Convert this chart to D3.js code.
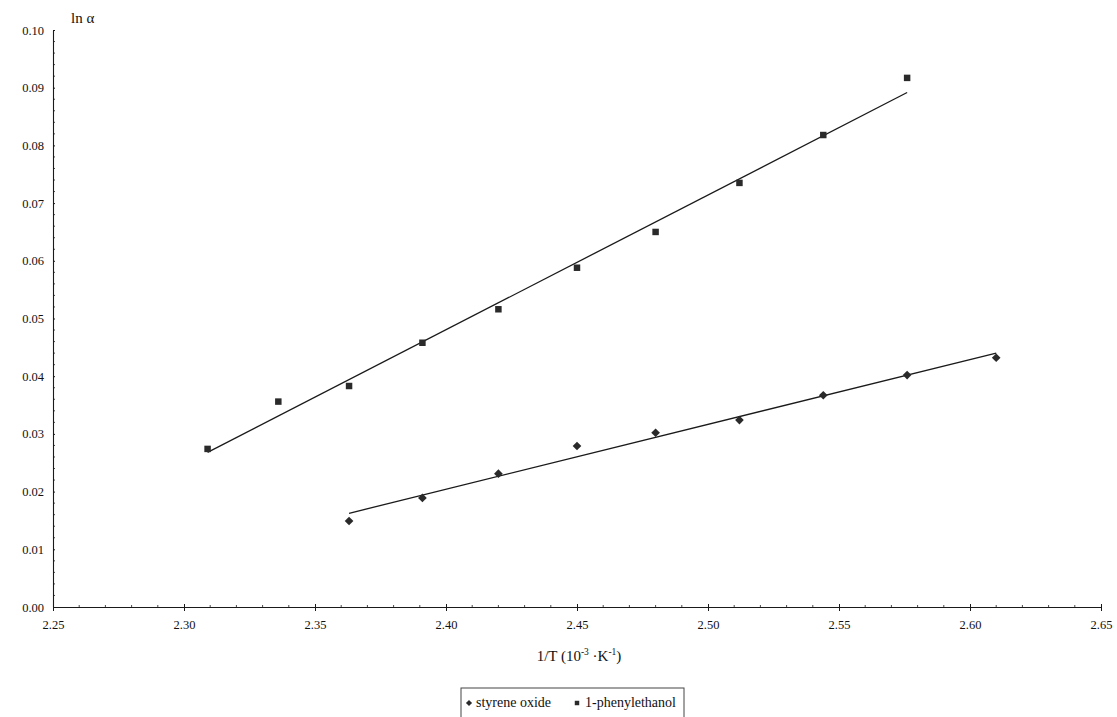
<!DOCTYPE html>
<html>
<head>
<meta charset="utf-8">
<script src="https://cdn.jsdelivr.net/npm/d3@7"></script>
<style>
  html, body { margin: 0; padding: 0; background: #fff; }
  svg { display: block; }
  text { font-family: "Liberation Serif", "Times New Roman", serif; fill: #111; }
</style>
</head>
<body>
<svg id="chart" width="1117" height="717"></svg>
<script>
// ---- data ----
const peX = [2.309, 2.336, 2.363, 2.391, 2.420, 2.450, 2.480, 2.512, 2.544, 2.576];
const peY = [0.0274, 0.0356, 0.0383, 0.0458, 0.0516, 0.0588, 0.0650, 0.0735, 0.0818, 0.0917];
const soX = [2.363, 2.391, 2.420, 2.450, 2.480, 2.512, 2.544, 2.576, 2.610];
const soY = [0.0149, 0.0189, 0.0231, 0.0279, 0.0302, 0.0324, 0.0367, 0.0402, 0.0432];
const seriesNames = ["styrene oxide", "1-phenylethanol"];
const xTicks = [2.25, 2.30, 2.35, 2.40, 2.45, 2.50, 2.55, 2.60, 2.65];
const yTicks = [0.00, 0.01, 0.02, 0.03, 0.04, 0.05, 0.06, 0.07, 0.08, 0.09, 0.10];
const yLabel = "ln α";

(function () {
// ---- layout ----
const svg = d3.select("#chart");
const mLeft = 53, mRight = 1101, mTop = 30, mBottom = 607;
const x = d3.scaleLinear().domain([2.25, 2.65]).range([mLeft, mRight]);
const y = d3.scaleLinear().domain([0, 0.10]).range([mBottom, mTop]);
const ink = "#1a1a1a";
const serif = '"Liberation Serif", "Times New Roman", serif';

// axes
const xAxis = d3.axisBottom(x).tickValues(xTicks).tickFormat(d3.format(".2f")).tickSizeInner(4).tickSizeOuter(0);
const gx = svg.append("g").attr("transform", `translate(0,${mBottom})`).call(xAxis);
gx.select(".domain").attr("stroke", ink).attr("stroke-width", 1.1);
gx.selectAll(".tick line").attr("stroke", ink).attr("y1", -3);
gx.selectAll(".tick text").attr("font-size", 12.5).attr("dy", "1.2em").attr("fill", ink)
  .style("font-family", serif);
// x minor ticks
const xMinor = d3.range(2.25, 2.6501, 0.01).filter(v => Math.abs(v * 20 - Math.round(v * 20)) > 1e-6);
svg.append("g").selectAll("line").data(xMinor).join("line")
  .attr("x1", d => x(d)).attr("x2", d => x(d))
  .attr("y1", mBottom - 2).attr("y2", mBottom + 1)
  .attr("stroke", ink).attr("stroke-width", 0.8);

const yAxis = d3.axisLeft(y).tickValues(yTicks).tickFormat(d3.format(".2f")).tickSizeInner(6).tickSizeOuter(0);
const gy = svg.append("g").attr("transform", `translate(${mLeft},0)`).call(yAxis);
gy.select(".domain").attr("stroke", ink).attr("stroke-width", 1.1);
gy.selectAll(".tick line").attr("stroke", ink).attr("x2", 2);
gy.selectAll(".tick text").attr("font-size", 12.5).attr("fill", ink)
  .style("font-family", serif);
// y minor ticks
const yMinor = d3.range(0, 0.1001, 0.002).filter(v => Math.abs(v * 100 - Math.round(v * 100)) > 1e-6);
svg.append("g").selectAll("line").data(yMinor).join("line")
  .attr("x1", mLeft).attr("x2", mLeft + 2)
  .attr("y1", d => y(d)).attr("y2", d => y(d))
  .attr("stroke", ink).attr("stroke-width", 0.8);

// axis titles
svg.append("text").attr("x", 71).attr("y", 23).attr("font-size", 15).text(yLabel);
const xt = svg.append("text").attr("x", (mLeft + mRight) / 2 + 2).attr("y", 661)
  .attr("text-anchor", "middle").attr("font-size", 15);
xt.append("tspan").text("1/T (10");
xt.append("tspan").attr("font-size", 9.5).attr("dy", -6).text("-3");
xt.append("tspan").attr("dy", 6).text(" ·K");
xt.append("tspan").attr("font-size", 9.5).attr("dy", -6).text("-1");
xt.append("tspan").attr("dy", 6).text(")");

// regression trendlines
function fit(xs, ys) {
  const mx = d3.mean(xs), my = d3.mean(ys);
  const sxy = d3.sum(xs, (v, i) => (v - mx) * (ys[i] - my));
  const sxx = d3.sum(xs, v => (v - mx) * (v - mx));
  const b = sxy / sxx, a = my - b * mx;
  const x0 = d3.min(xs), x1 = d3.max(xs);
  return [[x0, a + b * x0], [x1, a + b * x1]];
}
const line = d3.line().x(d => x(d[0])).y(d => y(d[1]));
[[peX, peY], [soX, soY]].forEach(([xs, ys]) => {
  svg.append("path").attr("d", line(fit(xs, ys)))
    .attr("fill", "none").attr("stroke", ink).attr("stroke-width", 1.3);
});

// markers
const diamondType = d3.symbolDiamond2 || d3.symbolDiamond;
const diamond = d3.symbol().type(diamondType).size(48);
const square = d3.symbol().type(d3.symbolSquare).size(42);
svg.append("g").selectAll("path").data(d3.zip(soX, soY)).join("path")
  .attr("d", diamond).attr("transform", d => `translate(${x(d[0])},${y(d[1])})`)
  .attr("fill", "#2a2a2a");
svg.append("g").selectAll("path").data(d3.zip(peX, peY)).join("path")
  .attr("d", square).attr("transform", d => `translate(${x(d[0])},${y(d[1])})`)
  .attr("fill", "#2a2a2a");

// legend
const lg = svg.append("g");
lg.append("rect").attr("x", 461).attr("y", 688).attr("width", 223).attr("height", 34)
  .attr("fill", "none").attr("stroke", "#444").attr("stroke-width", 1);
lg.append("path").attr("d", d3.symbol().type(diamondType).size(24))
  .attr("transform", "translate(469,703)").attr("fill", "#2a2a2a");
lg.append("text").attr("x", 476).attr("y", 707).attr("font-size", 14).text(seriesNames[0]);
lg.append("path").attr("d", d3.symbol().type(d3.symbolSquare).size(20))
  .attr("transform", "translate(577,703)").attr("fill", "#2a2a2a");
lg.append("text").attr("x", 585).attr("y", 707).attr("font-size", 14).text(seriesNames[1]);
})();
</script>
</body>
</html>
